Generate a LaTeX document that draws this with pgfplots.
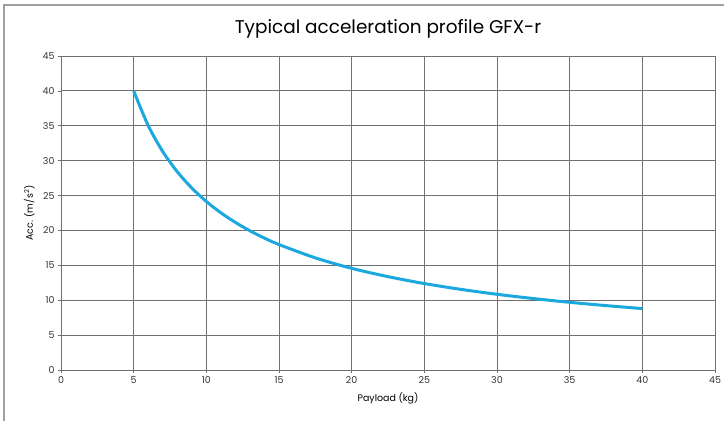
\documentclass[border=0pt]{standalone}
\usepackage{pgfplots}
\pgfplotsset{compat=1.18}
\usepackage{fontspec}
\setmainfont{Poppins}
\definecolor{curve}{HTML}{1BA8DE}
\definecolor{gridc}{HTML}{707070}
\definecolor{framec}{HTML}{A0A0A0}
\begin{document}
\begin{tikzpicture}
\useasboundingbox (-61bp,-51bp) rectangle (663bp,370bp);
\draw[framec, line width=2bp] (-56.5bp,-60bp) -- (-56.5bp,364.5bp) -- (700bp,364.5bp);
\begin{axis}[
  at={(0,0)}, anchor=south west,
  scale only axis, width=654bp, height=314bp,
  xmin=0, xmax=45, ymin=0, ymax=45,
  xtick={0,5,...,45}, ytick={0,5,...,45},
  grid=major,
  major grid style={gridc, line width=0.8bp},
  axis line style={gridc, line width=0.9bp},
  tick style={gridc, line width=0.6bp},
  tick align=outside, major tick length=3bp,
  xtick pos=bottom, ytick pos=left,
  tick label style={font=\fontsize{9.5}{11}\selectfont, text=black!80},
  /pgf/number format/assume math mode=true,
  xlabel={Payload (kg)}, ylabel={Acc. (m/s\textsuperscript{2})},
  label style={font=\fontsize{9.5}{11}\selectfont},
  xlabel style={yshift=-2bp},
  ylabel style={yshift=1bp},
  title={Typical acceleration profile GFX-r},
  title style={font=\fontsize{18.5}{21}\selectfont, yshift=8bp},
]
\addplot[curve, line width=3bp, smooth] coordinates {
(5,40.0) (6,35.03) (7,31.31) (8,28.41) (9,26.08) (10,24.15) (11,22.53)
(12,21.15) (13,19.95) (14,18.90) (15,17.98) (17.5,16.07) (20,14.57)
(22.5,13.38) (25,12.39) (27.5,11.56) (30,10.85) (32.5,10.24) (35,9.70)
(37.5,9.23) (40,8.80)
};
\end{axis}
\end{tikzpicture}
\end{document}
